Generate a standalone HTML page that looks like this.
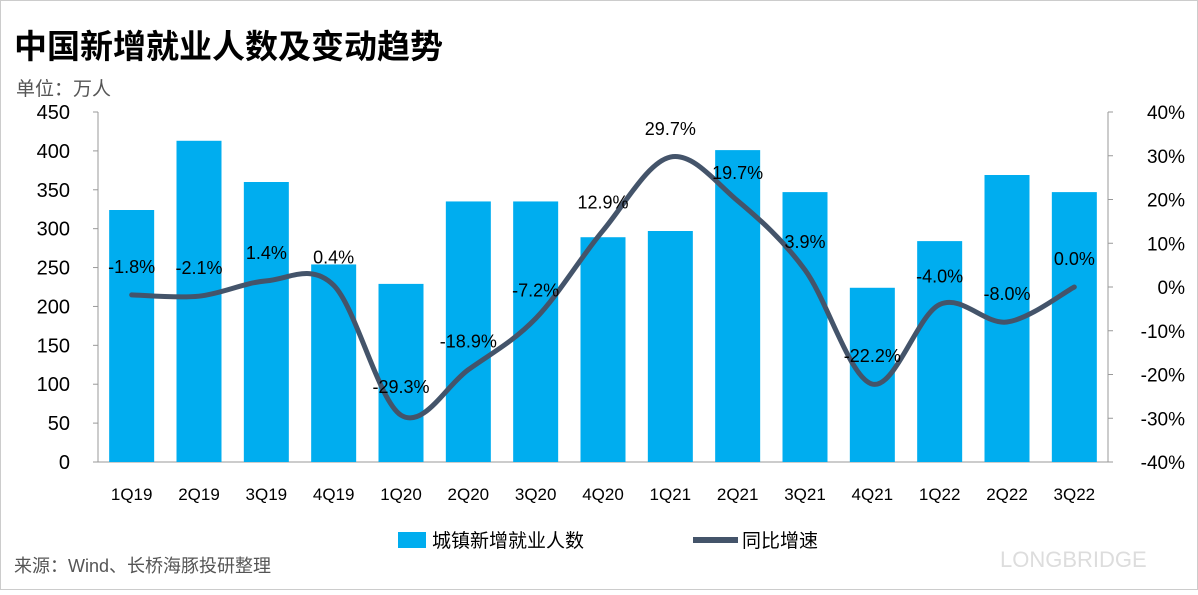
<!DOCTYPE html>
<html><head><meta charset="utf-8"><style>
body{margin:0;background:#fff;}
svg text{font-family:"Liberation Sans","Noto Sans CJK SC",sans-serif;}
</style></head><body>
<svg width="1198" height="590" viewBox="0 0 1198 590">
<rect x="0.5" y="0.5" width="1197" height="589" fill="#fff" stroke="#ccc"/>
<text x="14" y="58" font-size="33" font-weight="bold" fill="#000">中国新增就业人数及变动趋势</text>
<text x="16" y="95" font-size="19" fill="#555">单位：万人</text>
<g id="axes"></g><g id="bars"></g><g id="line"></g><g id="labels"></g>
<g>
<rect x="398" y="532" width="28" height="16" fill="#00adef"/>
<text x="432" y="547" font-size="19" fill="#000">城镇新增就业人数</text>
<line x1="693" y1="540" x2="738" y2="540" stroke="#44546a" stroke-width="6"/>
<text x="742" y="547" font-size="19" fill="#000">同比增速</text>
</g>
<text x="14" y="572" font-size="18" fill="#555">来源：Wind、长桥海豚投研整理</text>
<text x="1000" y="567" font-size="22" fill="#ddd">LONGBRIDGE</text>
</svg>
<script>
const categories=["1Q19","2Q19","3Q19","4Q19","1Q20","2Q20","3Q20","4Q20","1Q21","2Q21","3Q21","4Q21","1Q22","2Q22","3Q22"];
const employment=[324,413,360,254,229,335,335,289,297,401,347,224,284,369,347];
const growth=[-1.8,-2.1,1.4,0.4,-29.3,-18.9,-7.2,12.9,29.7,19.7,3.9,-22.2,-4.0,-8.0,0.0];
const leftTicks=[0,50,100,150,200,250,300,350,400,450];
const rightTicks=[-40,-30,-20,-10,0,10,20,30,40];
const NS="http://www.w3.org/2000/svg";
const x0=98,x1=1108,y0=462,yTop=112;
const step=(x1-x0)/categories.length;
const xc=i=>x0+step*(i+0.5);
const yL=v=>y0-(v/450)*(y0-yTop);
const yR=v=>y0-((v+40)/80)*(y0-yTop);
function mk(t,a,p){const e=document.createElementNS(NS,t);for(const k in a)e.setAttribute(k,a[k]);p.appendChild(e);return e;}
const ax=document.getElementById('axes');
let e=mk('line',{x1:x0,y1:yTop,x2:x0,y2:y0,stroke:'#999'},ax);

e=mk('line',{x1:x1,y1:yTop,x2:x1,y2:y0,stroke:'#999'},ax);

e=mk('line',{x1:x0,y1:y0,x2:x1,y2:y0,stroke:'#999'},ax);

leftTicks.forEach(v=>{const y=yL(v);mk('line',{x1:x0-5,y1:y,x2:x0,y2:y,stroke:'#999'},ax);
 const t=mk('text',{x:x0-28,y:y+7,'font-size':20,'text-anchor':'end',fill:'#000'},ax);t.textContent=v;
 });
rightTicks.forEach(v=>{const y=yR(v);mk('line',{x1:x1,y1:y,x2:x1+5,y2:y,stroke:'#999'},ax);
 const t=mk('text',{x:1185,y:y+7,'font-size':19,'text-anchor':'end',fill:'#000'},ax);t.textContent=v+'%';
 });
const bg=document.getElementById('bars');
categories.forEach((c,i)=>{const b=mk('rect',{x:xc(i)-22.5,y:yL(employment[i]),width:45,height:y0-yL(employment[i]),fill:'#00adef'},bg);
 
 const t=mk('text',{x:xc(i),y:500,'font-size':17,'text-anchor':'middle',fill:'#000'},ax);t.textContent=c;
 });
const pts=growth.map((v,i)=>[xc(i),yR(v)]);
let d='M'+pts[0][0]+','+pts[0][1];
for(let i=0;i<pts.length-1;i++){const p0=pts[Math.max(0,i-1)],p1=pts[i],p2=pts[i+1],p3=pts[Math.min(pts.length-1,i+2)];
 const c1=[p1[0]+(p2[0]-p0[0])/6,p1[1]+(p2[1]-p0[1])/6],c2=[p2[0]-(p3[0]-p1[0])/6,p2[1]-(p3[1]-p1[1])/6];
 d+=' C'+c1+' '+c2+' '+p2;}
const ln=mk('path',{d:d,fill:'none',stroke:'#44546a','stroke-width':5,'stroke-linecap':'round'},document.getElementById('line'));

const lg=document.getElementById('labels');
growth.forEach((v,i)=>{const t=mk('text',{x:xc(i),y:yR(v)-22,'font-size':18,'text-anchor':'middle',fill:'#000'},lg);
 t.textContent=v.toFixed(1)+'%';});
</script>
</body></html>
